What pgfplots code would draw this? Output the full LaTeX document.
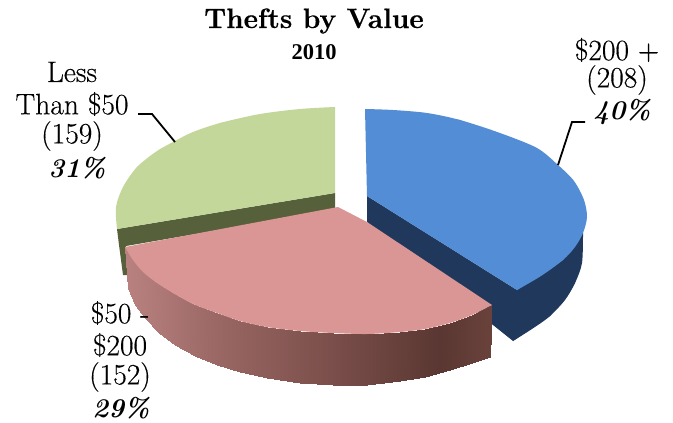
\documentclass[border=0pt]{standalone}
\usepackage{fontspec}
\usepackage{pgfplots}
\pgfplotsset{compat=1.18}
\newfontfamily\timesf{Liberation Serif}
\newfontfamily\lmthick[FakeBold=0.35]{Latin Modern Roman}
\newfontfamily\lmtitle[BoldFeatures={FakeBold=0.5}]{Latin Modern Roman}
\definecolor{pblue}{RGB}{83,141,213}
\definecolor{pnavy}{RGB}{31,56,92}
\definecolor{pgreen}{RGB}{196,215,155}
\definecolor{pdgreen}{RGB}{86,96,58}
\definecolor{ppink}{RGB}{218,150,148}
\pgfplotsset{colormap={sidepink}{rgb255(0cm)=(185,130,128); rgb255(1cm)=(150,100,97); rgb255(2cm)=(122,78,74); rgb255(3cm)=(90,55,50); rgb255(3.5cm)=(106,66,60)}}
\newcommand{\lab}[1]{\lmthick\fontsize{29.5}{32}\selectfont #1}
\newcommand{\labi}[1]{\fontsize{27}{32}\selectfont\bfseries\itshape #1}
\begin{document}
\begin{tikzpicture}
\begin{axis}[
  scale only axis, width=673pt, height=423pt,
  xmin=0, xmax=673, ymin=0, ymax=423, y dir=reverse,
  hide axis, clip=false,
]
\addplot[draw=none, fill=white] coordinates {(0,0) (673,0) (673,423) (0,423)} -- cycle;
% navy side of the $200+ slice
\addplot[draw=none, fill=pnavy, smooth, tension=0.5] coordinates {
 (583,233) (582,263) (575,283) (565,300) (550,316) (535,327) (513,341)};
\addplot[draw=none, fill=pnavy] coordinates {
 (367,196) (367,222) (493,325) (513,341) (550,316) (575,283) (583,233) (517,290)} -- cycle;
% blue top
\addplot[draw=none, fill=pblue, smooth, tension=0.5] coordinates {
 (365,109) (393,110) (427,113) (460,120) (500,133) (537,148) (558,165) (574,181)
 (584,200) (587,217) (583,233) (575,247) (563,260) (541,276) (517,290)};
\addplot[draw=none, fill=pblue] coordinates {
 (365,109) (460,120) (558,165) (587,217) (563,260) (517,290) (367,196)} -- cycle;
% green dark side
\addplot[draw=none, fill=pdgreen] coordinates {
 (335,193) (335,210) (126,246) (127,275) (123,275) (119,245) (117,229)} -- cycle;
% green top
\addplot[draw=none, fill=pgreen, smooth, tension=0.5] coordinates {
 (335,107) (300,109) (260,114) (220,123) (193,132) (175,141) (157,151) (137,167)
 (123,187) (116,207) (117,229)};
\addplot[draw=none, fill=pgreen] coordinates {
 (335,107) (220,123) (137,167) (117,229) (335,193)} -- cycle;
% pink side with shading
\addplot[patch, patch type=rectangle, shader=interp, point meta=x, point meta min=125, point meta max=492, colormap name=sidepink] coordinates {
 (125,247) (133,260) (135,305) (128,288)
 (133,260) (143,272) (145,318) (135,305)
 (143,272) (157,283) (159,333) (145,318)
 (157,283) (173,293) (175,345) (159,333)
 (173,293) (193,304) (195,356) (175,345)
 (193,304) (217,313) (217,365) (195,356)
 (217,313) (240,321) (240,372) (217,365)
 (240,321) (267,327) (267,378) (240,372)
 (267,327) (300,331) (300,383) (267,378)
 (300,331) (333,333) (333,385) (300,383)
 (333,333) (367,334) (367,385) (333,385)
 (367,334) (400,332) (400,381) (367,385)
 (400,332) (425,329) (425,377) (400,381)
 (425,329) (450,323) (450,370) (425,377)
 (450,323) (472,315) (472,363) (450,370)
 (472,315) (492,305) (490,357) (472,363)
};
% pink top
\addplot[draw=none, fill=ppink, smooth, tension=0.5] coordinates {
 (492,305) (472,315) (450,323) (425,329) (400,332) (367,334) (333,333)
 (300,331) (267,327) (240,321) (217,313) (193,304) (173,293) (157,283) (143,272) (133,260) (125,247)};
\addplot[draw=none, fill=ppink] coordinates {
 (338,207) (367,222) (492,305) (400,332) (267,327) (173,293) (125,247)} -- cycle;
% leaders
\addplot[black, line width=1.8pt] coordinates {(558,165) (572,122) (585,122)};
\addplot[black, line width=1.8pt] coordinates {(175,142) (152,114) (138,114)};
% text
\node at (axis cs:314,21) {\lmtitle\fontsize{28}{30}\selectfont\bfseries Thefts by Value};
\node at (axis cs:314,52) {\fontsize{22.5}{24}\selectfont\timesf\bfseries 2010};
\node at (axis cs:617,50) {\lab{\$200 +}};
\node at (axis cs:617,80) {\lab{(208)}};
\node at (axis cs:622,112) {\labi{40\%}};
\node at (axis cs:72,72) {\lab{Less}};
\node at (axis cs:72,104) {\lab{Than \$50}};
\node at (axis cs:72,136) {\lab{(159)}};
\node at (axis cs:77,168) {\labi{31\%}};
\node at (axis cs:120,313) {\lab{\$50 -}};
\node at (axis cs:120,345) {\lab{\$200}};
\node at (axis cs:120,377) {\lab{(152)}};
\node at (axis cs:121,408) {\labi{29\%}};
\end{axis}
\end{tikzpicture}
\end{document}
